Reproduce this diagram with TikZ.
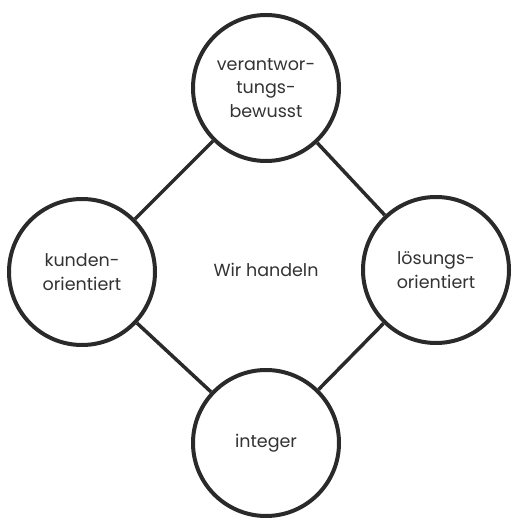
\documentclass[tikz,border=0pt]{standalone}
\usepackage{fontspec}
\setmainfont{Poppins}
\usetikzlibrary{positioning}
\definecolor{ink}{HTML}{2A2A2A}
\definecolor{txt}{HTML}{333333}

\begin{document}
\begin{tikzpicture}[x=1pt,y=1pt]

\tikzstyle{value}=[circle, draw=ink, line width=4pt, fill=white, minimum size=146pt, inner sep=0pt, align=center, text=txt, font=\fontsize{17.5}{23.5}\selectfont]
\tikzstyle{link}=[draw=ink, line width=3.5pt]

\useasboundingbox (0,0) rectangle (511,519);

\node (wir) at (266,249) [text=txt, font=\fontsize{17.5}{23.5}\selectfont] {Wir handeln};

\node (verant) at (266,431) [value] {verantwor-\\tungs-\\bewusst};
\node (kunden) at (82,247) [value] {kunden-\\orientiert};
\node (loesung) at (436,249) [value] {lösungs-\\orientiert};
\node (integer) at (266,76) [value] {integer};

\draw [link] (verant) -- (kunden);
\draw [link] (verant) -- (loesung);
\draw [link] (kunden) -- (integer);
\draw [link] (loesung) -- (integer);
\end{tikzpicture}
\end{document}
